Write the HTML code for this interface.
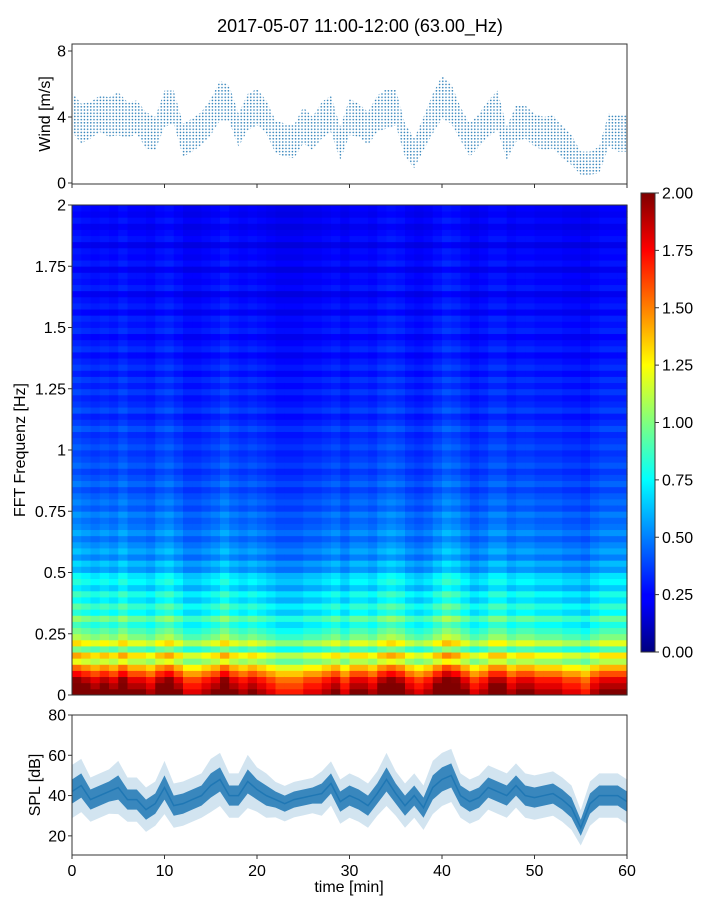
<!DOCTYPE html>
<html><head><meta charset="utf-8">
<style>
body{margin:0;background:#fff;}
svg{display:block;font-family:"Liberation Sans",sans-serif;}
</style></head>
<body>
<svg id="fig" width="720" height="900" xmlns="http://www.w3.org/2000/svg">
<defs>
<pattern id="plusPat" width="3.2" height="3.2" patternUnits="userSpaceOnUse">
<path d="M0.4 1.2h1.6M1.2 0.4v1.6" stroke="#1f77b4" stroke-width="0.7"/>
</pattern>
<linearGradient id="jetGrad" x1="0" y1="1" x2="0" y2="0">
<stop offset="0" stop-color="#00007f"/><stop offset="0.11" stop-color="#0000ff"/>
<stop offset="0.125" stop-color="#0000ff"/><stop offset="0.375" stop-color="#00ffff"/>
<stop offset="0.5" stop-color="#7fff7f"/><stop offset="0.625" stop-color="#ffff00"/>
<stop offset="0.875" stop-color="#ff0000"/><stop offset="1" stop-color="#7f0000"/>
</linearGradient>
<clipPath id="clipTop"><rect x="72" y="44" width="555" height="140"/></clipPath>
<clipPath id="clipBot"><rect x="72" y="715" width="555" height="140"/></clipPath>
</defs>
<text x="360" y="32" text-anchor="middle" font-size="18">2017-05-07 11:00-12:00 (63.00_Hz)</text>
<g id="topPanel"></g><g id="specPanel"></g><g id="cbarPanel"></g><g id="botPanel"></g>
</svg>
<script>
const windMean=[4.3,3.6,3.8,4.2,4.0,4.2,3.8,4.0,3.2,3.0,4.5,4.6,2.6,2.9,3.3,4.0,5.0,4.8,3.2,4.3,4.6,4.0,2.8,2.6,2.5,3.5,3.0,3.8,4.2,2.4,4.0,3.8,3.3,4.2,4.5,4.6,2.6,1.8,3.0,4.2,5.2,4.8,3.6,2.6,3.2,3.9,4.4,2.4,3.6,3.7,3.2,3.0,3.1,2.5,2.0,1.2,1.2,1.4,3.2,3.0,3.0];
const windSpread=[1.2,1.2,1.1,1.1,1.2,1.3,1.1,1.0,1.1,1.0,1.1,1.0,1.0,1.0,1.0,1.1,1.2,1.1,1.0,1.1,1.1,1.0,1.0,1.0,1.0,1.1,1.0,1.1,1.1,1.0,1.1,1.0,1.0,1.1,1.2,1.1,1.0,0.9,1.0,1.2,1.3,1.2,1.0,1.0,1.0,1.1,1.2,1.0,1.1,1.0,1.0,1.0,1.0,1.0,0.9,0.7,0.7,0.8,1.0,1.1,1.1];
const splMean=[42,45,38,40,42,44,38,38,33,36,44,35,36,38,40,45,48,40,40,47,43,40,38,36,38,39,40,41,46,37,40,38,35,41,48,41,35,40,34,44,48,50,40,37,39,44,42,40,45,40,39,40,41,38,34,24,36,40,40,40,37];
const splSpread=[6,6,5,5,5,6,5,5,5,5,6,5,5,5,5,6,6,5,5,6,5,5,4,4,4,4,4,5,5,5,5,5,5,5,6,5,5,5,5,6,6,6,5,5,5,5,5,5,5,5,5,5,5,5,5,4,5,5,5,5,5];
const freqProfile=[2.0,1.9,1.8,1.6,1.4,1.1,1.3,0.9,1.2,1.0,0.9,0.8,0.95,0.75,0.85,0.7,0.8,0.65,0.75,0.7,0.55,0.62,0.5,0.58,0.52,0.46,0.54,0.48,0.45,0.5,0.42,0.47,0.43,0.38,0.45,0.4,0.36,0.42,0.38,0.35,0.4,0.36,0.33,0.4,0.34,0.3,0.38,0.33,0.3,0.36,0.3,0.35,0.28,0.34,0.3,0.26,0.33,0.29,0.25,0.32,0.28,0.31,0.24,0.3,0.27,0.22,0.3,0.26,0.28,0.22,0.29,0.25,0.27,0.21,0.28,0.25,0.22,0.27,0.23,0.25];
const timeFactor=[1.1,1.05,1.0,1.05,1.0,1.1,1.0,1.0,0.95,1.05,1.1,1.0,0.9,0.9,0.95,1.0,1.1,1.0,0.95,1.0,0.95,0.9,0.85,0.85,0.85,0.9,0.9,0.95,1.0,0.9,1.0,1.0,0.95,1.05,1.1,1.05,0.95,0.9,0.95,1.05,1.15,1.1,1.0,0.9,0.95,1.05,1.05,0.95,1.0,1.0,0.95,0.95,0.95,0.9,0.9,0.85,0.95,1.0,1.0,1.0];
const xTicks=[0,10,20,30,40,50,60];
const windTicks=[0,4,8];
const freqTicks=[0,0.25,0.5,0.75,1,1.25,1.5,1.75,2];
const freqTickLabels=["0","0.25","0.5","0.75","1","1.25","1.5","1.75","2"];
const cbTicks=[0,0.25,0.5,0.75,1,1.25,1.5,1.75,2];
const splTicks=[20,40,60,80];

const NS="http://www.w3.org/2000/svg";
const FS=16;
function mk(tag,attrs,parent){const e=document.createElementNS(NS,tag);for(const k in attrs)e.setAttribute(k,attrs[k]);parent.appendChild(e);return e;}
const X0=72,X1=627;
const sx=t=>X0+(X1-X0)*t/60;
const syW=v=>183-16.5*v;
const syF=f=>695-245*f;
const syC=v=>652-229.5*v;
const syS=v=>715+(80-v)*(140/69.5);
function jet(v){v=Math.max(0,Math.min(1,v));
 const r=Math.max(0,Math.min(1,1.5-Math.abs(4*v-3))),g=Math.max(0,Math.min(1,1.5-Math.abs(4*v-2))),b=Math.max(0,Math.min(1,1.5-Math.abs(4*v-1)));
 return `rgb(${Math.round(r*255)},${Math.round(g*255)},${Math.round(b*255)})`;}

// ---- top wind panel
const topG=document.getElementById('topPanel');
let up="",dn="";
windMean.forEach((m,i)=>{up+=(i?"L":"M")+sx(i)+" "+syW(m+windSpread[i]);});
for(let i=windMean.length-1;i>=0;i--)dn+="L"+sx(i)+" "+syW(windMean[i]-windSpread[i]);
let wb=mk('path',{d:up+dn+"Z",fill:"url(#plusPat)","clip-path":"url(#clipTop)"},topG);


let wf=mk('rect',{x:72,y:44,width:555,height:140,fill:"none",stroke:"#333","stroke-width":1},topG);


windTicks.forEach(v=>{mk('line',{x1:68,x2:72,y1:syW(v),y2:syW(v),stroke:"#333"},topG);
 const t=mk('text',{x:66,y:syW(v)+5.5,"text-anchor":"end","font-size":FS},topG);t.textContent=v;
 
 });
xTicks.forEach(v=>mk('line',{x1:sx(v),x2:sx(v),y1:184,y2:188,stroke:"#333"},topG));
let wl=mk('text',{transform:"translate(50,114) rotate(-90)","text-anchor":"middle","font-size":FS},topG);wl.textContent="Wind [m/s]";



// ---- spectrogram
const specG=document.getElementById('specPanel');
const cw=(X1-X0)/timeFactor.length, ch=490/freqProfile.length;
timeFactor.forEach((tf,i)=>{freqProfile.forEach((fp,j)=>{
 const r=mk('rect',{x:(X0+i*cw).toFixed(2),y:(695-(j+1)*ch).toFixed(2),width:(cw+0.6).toFixed(2),height:(ch+0.4).toFixed(2),fill:jet(fp*tf/2)},specG);
 
 
});});
let sf=mk('rect',{x:72,y:205,width:555,height:490,fill:"none",stroke:"#333"},specG);


freqTicks.forEach((v,k)=>{mk('line',{x1:68,x2:72,y1:syF(v),y2:syF(v),stroke:"#333"},specG);
 const t=mk('text',{x:66,y:syF(v)+5.5,"text-anchor":"end","font-size":FS},specG);t.textContent=freqTickLabels[k];
 
 });
let fl=mk('text',{transform:"translate(25,450) rotate(-90)","text-anchor":"middle","font-size":FS},specG);fl.textContent="FFT Frequenz [Hz]";



// ---- colorbar
const cbG=document.getElementById('cbarPanel');
let cr=mk('rect',{x:641,y:193,width:14,height:459,fill:"url(#jetGrad)",stroke:"#333"},cbG);


cbTicks.forEach(v=>{mk('line',{x1:655,x2:659,y1:syC(v),y2:syC(v),stroke:"#333"},cbG);
 const t=mk('text',{x:662,y:syC(v)+5.5,"font-size":FS},cbG);t.textContent=v.toFixed(2);
 
 });

// ---- SPL panel
const botG=document.getElementById('botPanel');
function band(k,op,name){let a="",b="";
 splMean.forEach((m,i)=>{a+=(i?"L":"M")+sx(i)+" "+syS(m+splSpread[i]*k);});
 for(let i=splMean.length-1;i>=0;i--)b+="L"+sx(i)+" "+syS(splMean[i]-splSpread[i]*k);
 const p=mk('path',{d:a+b+"Z",fill:"#1f77b4","fill-opacity":op,"clip-path":"url(#clipBot)"},botG);
 
 }
band(2.2,0.2,'spl-outer-band');band(1,0.85,'spl-inner-band');
let sp="";splMean.forEach((m,i)=>{sp+=(i?"L":"M")+sx(i)+" "+syS(m);});
let sl=mk('path',{d:sp,fill:"none",stroke:"#1f77b4","stroke-width":1.5},botG);


let bf=mk('rect',{x:72,y:715,width:555,height:140,fill:"none",stroke:"#333"},botG);


splTicks.forEach(v=>{mk('line',{x1:68,x2:72,y1:syS(v),y2:syS(v),stroke:"#333"},botG);
 const t=mk('text',{x:66,y:syS(v)+5.5,"text-anchor":"end","font-size":FS},botG);t.textContent=v;
 
 });
xTicks.forEach(v=>{mk('line',{x1:sx(v),x2:sx(v),y1:855,y2:859,stroke:"#333"},botG);
 const t=mk('text',{x:sx(v),y:876,"text-anchor":"middle","font-size":FS},botG);t.textContent=v;
 
 });
let xl=mk('text',{x:349,y:892,"text-anchor":"middle","font-size":FS},botG);xl.textContent="time [min]";


let yl=mk('text',{transform:"translate(40,785) rotate(-90)","text-anchor":"middle","font-size":FS},botG);yl.textContent="SPL [dB]";


</script>
</body></html>
